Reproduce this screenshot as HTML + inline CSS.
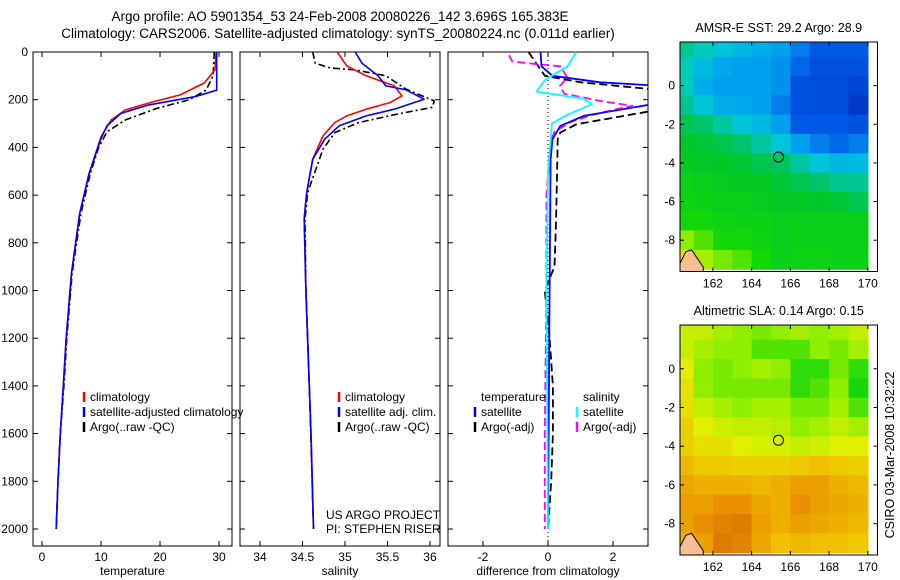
<!DOCTYPE html>
<html><head><meta charset="utf-8"><style>
html,body{margin:0;padding:0;background:#fff;}
svg{display:block;font-family:"Liberation Sans",sans-serif;}
</style></head><body>
<svg id="chart" width="900" height="580" viewBox="0 0 900 580">
<defs>
<clipPath id="c1"><rect x="33" y="52" width="199" height="494"/></clipPath>
<clipPath id="c2"><rect x="240" y="52" width="200" height="494"/></clipPath>
<clipPath id="c3"><rect x="448" y="52" width="200" height="494"/></clipPath>
<clipPath id="cm1"><rect x="680" y="42" width="197.5" height="229.5"/></clipPath>
<clipPath id="cm2"><rect x="680" y="325" width="197.5" height="230"/></clipPath>
</defs>
<text x="340" y="21" font-size="13.5" text-anchor="middle">Argo profile: AO 5901354_53 24-Feb-2008 20080226_142 3.696S 165.383E</text>
<text x="338" y="38" font-size="13.5" text-anchor="middle">Climatology: CARS2006. Satellite-adjusted climatology: synTS_20080224.nc (0.011d earlier)</text>
<g id="plots"></g>
<g id="maps"></g>
<text transform="translate(894,455) rotate(-90)" font-size="12.5" text-anchor="middle">CSIRO 03-Mar-2008 10:32:22</text>
</svg>
<script>
// ---------- data ----------
const depthTicks=[0,200,400,600,800,1000,1200,1400,1600,1800,2000];
const tempTicks=[0,10,20,30];
const salTicks=[34,34.5,35,35.5,36];
const diffTicks=[-2,0,2];

const tClimDepth=[0,75,130,180,214,243,285,356,508,675,927,1200,1400,1600,1800,2000];
const tClimVal=[29.5,29.3,27.5,23.4,18.1,14.1,11.7,10,8,6.4,5,4.1,3.6,3.1,2.7,2.4];
const tSatDepth=[0,160,187,222,257,310,363,508,675,927,1200,1400,1600,1800,2000];
const tSatVal=[29.6,29.6,26,18.1,13.4,11,10,8,6.4,5,4.1,3.6,3.1,2.7,2.4];
const tArgoDepth=[0,100,160,200,236,285,335,400,508,675,927,1200,1400,1600,1800,2000];
const tArgoVal=[29.2,29.0,27.8,25,19.5,14.1,11,9.6,8.2,6.6,5.1,4.2,3.7,3.1,2.7,2.4];

const sClimDepth=[0,58,100,142,184,212,240,268,296,352,450,590,700,1000,1400,1600,2000];
const sClimVal=[34.91,35.02,35.25,35.58,35.67,35.53,35.25,35.02,34.88,34.74,34.62,34.55,34.52,34.54,34.58,34.6,34.63];
const sSatDepth=[0,47,100,142,159,198,240,268,310,366,450,590,700,1000,1400,1600,2000];
const sSatVal=[35.12,35.2,35.39,35.48,35.72,35.93,35.58,35.25,34.93,34.76,34.62,34.55,34.52,34.54,34.58,34.6,34.63];
const sArgoDepth=[0,47,67,75,100,156,205,232,260,296,338,408,590,700,1000,1400,2000];
const sArgoVal=[34.62,34.65,34.83,35.12,35.48,35.72,36.05,36.03,35.62,35.16,34.88,34.74,34.56,34.53,34.54,34.58,34.63];

const dTSatDepth=[0,60,100,127,142,212,268,310,366,450,1000,2000];
const dTSatVal=[-0.23,-0.2,0.14,1.6,3.5,3.5,1.1,0.38,0.14,0.08,0.05,0.0];
const dTArgoDepth=[0,60,100,127,160,240,303,338,366,500,700,900,1000,1200,1400,1600,1800,2000];
const dTArgoVal=[-0.6,-0.3,-0.1,1.0,3.5,3.5,0.87,0.38,0.3,0.28,0.25,0.2,-0.1,0.05,0.15,0.15,0.1,0.0];
const dSSatDepth=[0,60,118,166,196,219,263,300,500,1000,2000];
const dSSatVal=[0.87,0.6,-0.1,-0.35,1.1,1.35,0.6,0.12,0.0,-0.05,0.0];
const dSArgoDepth=[14,40,49,60,107,142,175,205,226,240,264,293,334,370,600,1000,1600,2000];
const dSArgoVal=[-1.2,-1.1,-0.47,0.37,0.6,0.37,0.5,1.6,2.6,2.1,1.35,0.7,0.2,0.1,-0.05,-0.05,-0.1,-0.1];

const lonTicks=[162,164,166,168,170];
const latTicks=[0,-2,-4,-6,-8];
const cellLats=[2,1,0,-1,-2,-3,-4,-5,-6,-7,-8,-9];
const cellLons=[160.5,161.5,162.5,163.5,164.5,165.5,166.5,167.5,168.5,169.5];
const sstField=[
[0.45,0.42,0.38,0.35,0.33,0.3,0.25,0.2,0.2,0.2],
[0.42,0.36,0.32,0.3,0.3,0.28,0.22,0.18,0.18,0.18],
[0.42,0.33,0.3,0.3,0.3,0.28,0.18,0.17,0.17,0.15],
[0.45,0.38,0.33,0.32,0.3,0.25,0.18,0.17,0.17,0.12],
[0.5,0.48,0.44,0.38,0.35,0.3,0.2,0.2,0.2,0.18],
[0.53,0.52,0.5,0.48,0.44,0.38,0.3,0.25,0.22,0.25],
[0.55,0.54,0.53,0.52,0.5,0.49,0.44,0.38,0.35,0.36],
[0.57,0.56,0.55,0.54,0.54,0.52,0.5,0.48,0.45,0.45],
[0.58,0.57,0.56,0.56,0.55,0.54,0.54,0.53,0.52,0.5],
[0.6,0.6,0.58,0.57,0.57,0.56,0.56,0.56,0.56,0.56],
[0.7,0.65,0.6,0.6,0.58,0.56,0.57,0.57,0.57,0.57],
[0.8,0.72,0.68,0.65,0.6,0.57,0.58,0.58,0.57,0.57]];
const slaField=[
[0.75,0.75,0.72,0.7,0.68,0.7,0.72,0.7,0.72,0.75],
[0.75,0.72,0.7,0.7,0.65,0.65,0.65,0.7,0.68,0.72],
[0.78,0.7,0.68,0.7,0.72,0.7,0.62,0.62,0.68,0.62],
[0.8,0.7,0.68,0.68,0.68,0.68,0.62,0.65,0.7,0.6],
[0.8,0.75,0.72,0.7,0.72,0.72,0.68,0.68,0.72,0.65],
[0.82,0.78,0.76,0.75,0.75,0.74,0.7,0.72,0.75,0.72],
[0.82,0.8,0.8,0.78,0.77,0.77,0.75,0.76,0.78,0.78],
[0.85,0.83,0.83,0.82,0.82,0.82,0.83,0.84,0.83,0.82],
[0.87,0.86,0.86,0.86,0.85,0.86,0.88,0.88,0.86,0.85],
[0.88,0.88,0.9,0.9,0.87,0.86,0.9,0.88,0.87,0.86],
[0.88,0.9,0.92,0.93,0.88,0.86,0.88,0.87,0.86,0.85],
[0.86,0.88,0.93,0.92,0.87,0.84,0.85,0.84,0.84,0.83]];
const floatLon=165.383, floatLat=-3.696;

// ---------- helpers ----------
const NS="http://www.w3.org/2000/svg";
function mk(tag,attrs,parent){const e=document.createElementNS(NS,tag);for(const k in attrs)e.setAttribute(k,attrs[k]);parent.appendChild(e);return e;}
const plots=document.getElementById('plots');
const maps=document.getElementById('maps');
const TOP=52,BOT=546;
function yD(d){return TOP+d*0.2385;}

const panels=[
 {x0:33,x1:232,vmin:-1.53,vmax:32.2,ticks:tempTicks,title:'temperature',clip:'c1',name:'temperature'},
 {x0:240,x1:440,vmin:33.765,vmax:36.118,ticks:salTicks,title:'salinity',clip:'c2',name:'salinity'},
 {x0:448,x1:648,vmin:-3.077,vmax:3.077,ticks:diffTicks,title:'difference from climatology',clip:'c3',name:'difference'}];
function xf(p){return v=>p.x0+(v-p.vmin)/(p.vmax-p.vmin)*(p.x1-p.x0);}

panels.forEach((p,i)=>{
 const g=mk('g',{},plots);
 
 
 const r=mk('rect',{x:p.x0,y:TOP,width:p.x1-p.x0,height:BOT-TOP,fill:'none',stroke:'#000','stroke-width':1},g);
 
 
 const X=xf(p);
 p.ticks.forEach(t=>{
  const x=X(t);
  mk('line',{x1:x,y1:BOT,x2:x,y2:BOT-5,stroke:'#000'},g);
  mk('line',{x1:x,y1:TOP,x2:x,y2:TOP+5,stroke:'#000'},g);
  const tx=mk('text',{x:x,y:BOT+15,'font-size':12,'text-anchor':'middle'},g);
  tx.textContent=String(t);
  
  
 });
 depthTicks.forEach(d=>{
  const y=yD(d);
  mk('line',{x1:p.x0,y1:y,x2:p.x0+5,y2:y,stroke:'#000'},g);
  mk('line',{x1:p.x1,y1:y,x2:p.x1-5,y2:y,stroke:'#000'},g);
  if(i===0){
   const tx=mk('text',{x:28,y:y+4,'font-size':12,'text-anchor':'end'},g);
   tx.textContent=String(d);
   
   
  }
 });
 const tt=mk('text',{x:(p.x0+p.x1)/2,y:575,'font-size':12,'text-anchor':'middle'},g);
 tt.textContent=p.title;
 
 
});

function series(pi,depths,vals,color,dash,name,w){
 const p=panels[pi],X=xf(p);
 const pts=depths.map((d,k)=>X(vals[k]).toFixed(1)+','+yD(d).toFixed(1)).join(' ');
 const a={points:pts,fill:'none',stroke:color,'stroke-width':w||1.6,'clip-path':'url(#'+p.clip+')','stroke-linejoin':'round'};
 if(dash)a['stroke-dasharray']=dash;
 const e=mk('polyline',a,plots);
 
 
}
{const X=xf(panels[2]);const z=mk('line',{x1:X(0),y1:TOP,x2:X(0),y2:BOT,stroke:'#000','stroke-dasharray':'1,3','stroke-width':1},plots);

}
series(0,tArgoDepth,tArgoVal,'#000','7,3,2,3','temp-argo-line');
series(0,tClimDepth,tClimVal,'#f00',null,'temp-climatology-line');
series(0,tSatDepth,tSatVal,'#00f',null,'temp-satellite-line');
series(1,sArgoDepth,sArgoVal,'#000','7,3,2,3','sal-argo-line');
series(1,sClimDepth,sClimVal,'#f00',null,'sal-climatology-line');
series(1,sSatDepth,sSatVal,'#00f',null,'sal-satellite-line');
series(2,dTArgoDepth,dTArgoVal,'#000','8,4','diff-temp-argo-line',1.8);
series(2,dSArgoDepth,dSArgoVal,'#f0f','8,4','diff-sal-argo-line',1.8);
series(2,dTSatDepth,dTSatVal,'#00f',null,'diff-temp-satellite-line',1.8);
series(2,dSSatDepth,dSSatVal,'#0ff',null,'diff-sal-satellite-line',1.8);

function legEntry(x,y,color,label,name){
 const g=mk('g',{},plots);
 
 
 if(color)mk('line',{x1:x,y1:y-9,x2:x,y2:y+1,stroke:color,'stroke-width':2.5},g);
 const t=mk('text',{x:x+6,y:y,'font-size':12},g);t.textContent=label;
}
legEntry(84,401,'#f00','climatology','legend-temp-climatology');
legEntry(84,416,'#00f','satellite-adjusted climatology','legend-temp-satellite');
legEntry(84,431,'#000','Argo(..raw -QC)','legend-temp-argo');
legEntry(339,401,'#f00','climatology','legend-sal-climatology');
legEntry(339,416,'#00f','satellite adj. clim.','legend-sal-satellite');
legEntry(339,431,'#000','Argo(..raw -QC)','legend-sal-argo');
legEntry(475,401,null,'temperature','legend-temperature-heading');
legEntry(577,401,null,'salinity','legend-salinity-heading');
legEntry(475,416,'#00f','satellite','legend-diff-temp-satellite');
legEntry(475,431,'#000','Argo(-adj)','legend-diff-temp-argo');
legEntry(577,416,'#0ff','satellite','legend-diff-sal-satellite');
legEntry(577,431,'#f0f','Argo(-adj)','legend-diff-sal-argo');
{const t=mk('text',{x:326,y:519,'font-size':12},plots);t.textContent='US ARGO PROJECT';

const t2=mk('text',{x:326,y:533,'font-size':12},plots);t2.textContent='PI: STEPHEN RISER';
}

const stops=[[0.1,[0,48,192]],[0.2,[0,90,230]],[0.3,[0,160,240]],[0.4,[0,205,210]],[0.47,[0,195,120]],[0.53,[0,200,40]],[0.6,[20,215,10]],[0.7,[144,238,0]],[0.78,[224,240,0]],[0.84,[240,192,0]],[0.9,[232,144,0]],[0.97,[208,96,0]]];
function cmap(t){
 if(t<=stops[0][0])return 'rgb('+stops[0][1]+')';
 for(let i=1;i<stops.length;i++){if(t<=stops[i][0]){const a=stops[i-1],b=stops[i],f=(t-a[0])/(b[0]-a[0]);
  return 'rgb('+a[1].map((c,k)=>Math.round(c+(b[1][k]-c)*f)).join(',')+')';}}
 return 'rgb('+stops[stops.length-1][1]+')';
}
function drawMap(y0,y1,field,clip,title,name){
 const x0=680,x1=877.5,lonMin=160.3,lonMax=170.5,latMax=2.26,latMin=-9.62;
 const X=l=>x0+(l-lonMin)/(lonMax-lonMin)*(x1-x0);
 const Y=l=>y0+(latMax-l)/(latMax-latMin)*(y1-y0);
 const g=mk('g',{},maps);
 
 
 const cg=mk('g',{'clip-path':'url(#'+clip+')'},g);
 mk('rect',{x:x0,y:y0,width:x1-x0,height:y1-y0,fill:'#fff'},cg);
 cellLats.forEach((lat,r)=>cellLons.forEach((lon,c)=>{
  const xa=X(lon-0.5),xb=X(lon+0.5),ya=Y(lat+0.5),yb=Y(lat-0.5);
  const cell=mk('rect',{x:xa.toFixed(1),y:ya.toFixed(1),width:(xb-xa+0.6).toFixed(1),height:(yb-ya+0.6).toFixed(1),fill:cmap(field[r][c])},cg);
  
  
 }));
 const land=mk('path',{d:`M${X(160.3)},${Y(-9.2)} L${X(160.6)},${Y(-8.6)} L${X(160.9)},${Y(-8.5)} L${X(161.5)},${Y(-9.4)} L${X(161.5)},${Y(-9.7)} L${X(160.3)},${Y(-9.7)}Z`,fill:'#f8c090',stroke:'#000','stroke-width':1},cg);
 
 
 mk('rect',{x:x0,y:y0,width:x1-x0,height:y1-y0,fill:'none',stroke:'#000'},g);
 const circ=mk('circle',{cx:X(floatLon),cy:Y(floatLat),r:5,fill:'none',stroke:'#000','stroke-width':1},g);
 
 
 lonTicks.forEach(l=>{const x=X(l);mk('line',{x1:x,y1:y1,x2:x,y2:y1-4,stroke:'#000'},g);mk('line',{x1:x,y1:y0,x2:x,y2:y0+4,stroke:'#000'},g);
  const t=mk('text',{x:x,y:y1+16,'font-size':12,'text-anchor':'middle'},g);t.textContent=String(l);
  });
 latTicks.forEach(l=>{const y=Y(l);mk('line',{x1:x0,y1:y,x2:x0+4,y2:y,stroke:'#000'},g);mk('line',{x1:x1,y1:y,x2:x1-4,y2:y,stroke:'#000'},g);
  const t=mk('text',{x:x0-5,y:y+4,'font-size':12,'text-anchor':'end'},g);t.textContent=String(l);
  });
 const tt=mk('text',{x:(x0+x1)/2,y:y0-10,'font-size':12.5,'text-anchor':'middle'},g);tt.textContent=title;
 
}
drawMap(42,271.5,sstField,'cm1','AMSR-E SST: 29.2 Argo: 28.9','sst-map');
drawMap(325,555,slaField,'cm2','Altimetric SLA: 0.14 Argo: 0.15','sla-map');
</script>
</body></html>
